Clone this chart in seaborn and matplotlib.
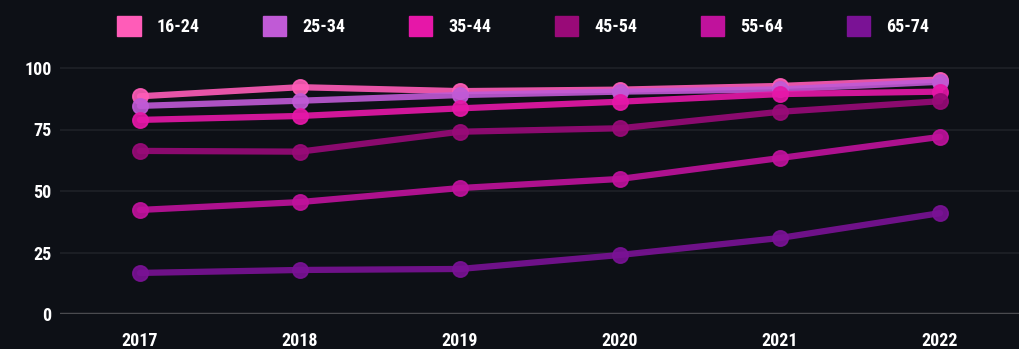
import matplotlib
matplotlib.use("Agg")
import matplotlib.pyplot as plt
import seaborn as sns
import pandas as pd
from matplotlib.patches import Patch
from matplotlib import font_manager

years = ["2017", "2018", "2019", "2020", "2021", "2022"]
age_groups = ["16-24", "25-34", "35-44", "45-54", "55-64", "65-74"]
v_16_24 = [88.5, 92.2, 90.6, 91.2, 92.7, 95.3]
v_25_34 = [84.6, 86.7, 89.0, 90.4, 91.3, 94.4]
v_35_44 = [78.9, 80.5, 83.6, 86.3, 89.4, 90.4]
v_45_54 = [66.3, 66.0, 74.1, 75.5, 82.2, 86.5]
v_55_64 = [42.3, 45.5, 51.2, 54.9, 63.4, 72.0]
v_65_74 = [16.7, 17.9, 18.3, 24.0, 30.9, 41.0]
colors = ["#ff5cb8", "#c05ad6", "#e617a8", "#990a78", "#c0129c", "#7a1295"]
yticks = [0, 25, 50, 75, 100]

series = [v_16_24, v_25_34, v_35_44, v_45_54, v_55_64, v_65_74]
rows = []
for g, vals in zip(age_groups, series):
    for y, v in zip(years, vals):
        rows.append({"year": y, "group": g, "value": v})
df = pd.DataFrame(rows)

available = {f.name for f in font_manager.fontManager.ttflist}
fam = "DejaVu Sans"
for cand in ["DejaVu Sans Condensed", "Liberation Sans Narrow", "Roboto Condensed", "Roboto"]:
    if cand in available:
        fam = cand
        break

bg = "#0d1016"
sns.set_theme(style="dark")
plt.rcParams["font.family"] = [fam, "DejaVu Sans"]

fig = plt.figure(figsize=(10.2, 3.49), dpi=100, facecolor=bg)
ax = fig.add_axes([60/1020, 35/349, 960/1020, 270.6/349])
ax.set_facecolor(bg)

for y in [25, 50, 75, 100]:
    ax.axhline(y, color="#1e2228", lw=1.2, zorder=0)
ax.axhline(0, color="#4a4b4f", lw=2.5, zorder=1)

sns.lineplot(data=df, x="year", y="value", hue="group", palette=colors,
             hue_order=age_groups, sort=False, marker="o", markersize=11,
             linewidth=4.5, alpha=0.9, markeredgewidth=1.2, ax=ax, legend=False)
for line, c in zip(ax.get_lines()[-6:], colors):
    line.set_markeredgecolor(c)
    line.set_clip_on(False)

ax.set_xlim(-0.5, 5.5)
ax.set_ylim(0, 110)
ax.set_yticks(yticks)
ax.set_yticklabels([str(t) for t in yticks])
ax.set_xlabel("")
ax.set_ylabel("")
for s in ax.spines.values():
    s.set_visible(False)
ax.tick_params(axis="both", length=0, colors="white")
ax.tick_params(axis="y", pad=6)
ax.tick_params(axis="x", pad=13)
for lab in ax.get_xticklabels() + ax.get_yticklabels():
    lab.set_fontweight("bold")
    lab.set_fontsize(13)
    lab.set_color("white")
ax.grid(False)

handles = [Patch(facecolor=c, edgecolor=c, label=g) for g, c in zip(age_groups, colors)]
leg = fig.legend(handles=handles, loc="upper center", bbox_to_anchor=(0.513, 1.0),
                 ncol=6, frameon=False, handlelength=1.3, handleheight=1.3,
                 columnspacing=3.5, handletextpad=0.9,
                 prop={"family": fam, "weight": "bold", "size": 13})
for t in leg.get_texts():
    t.set_color("white")

fig.savefig("out.png", dpi=100, facecolor=bg)
